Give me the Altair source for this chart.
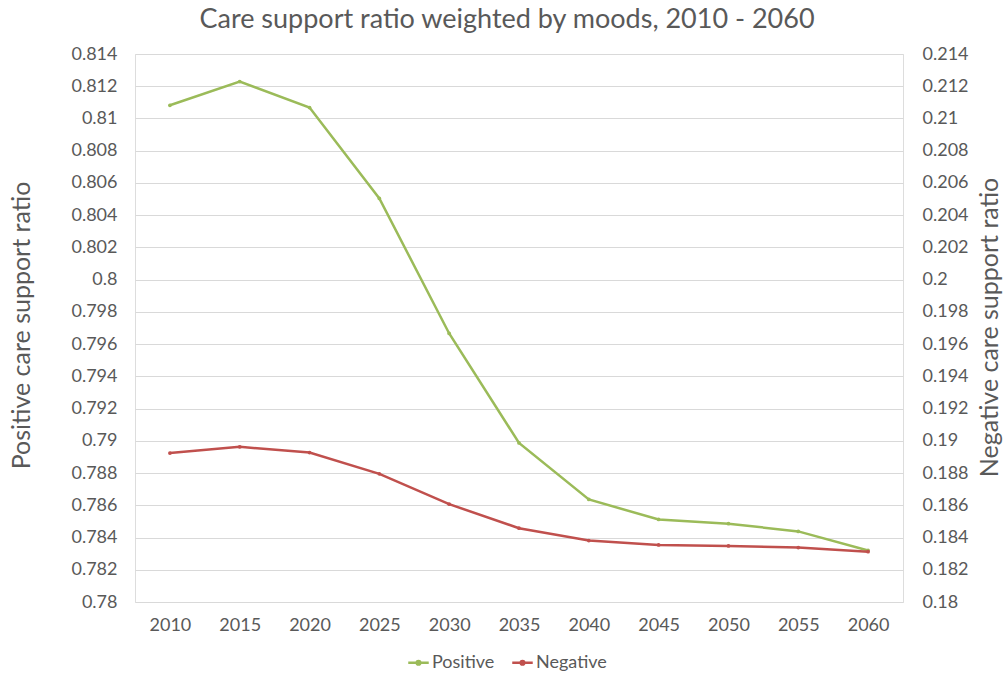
import altair as alt
import pandas as pd

years = ["2010", "2015", "2020", "2025", "2030", "2035", "2040", "2045", "2050", "2055", "2060"]
positive = [0.81082, 0.81229, 0.81068, 0.80504, 0.79666, 0.78987, 0.78636, 0.78512, 0.78486, 0.78438, 0.78320]
negative = [0.18924, 0.18963, 0.18927, 0.18795, 0.18607, 0.18458, 0.18381, 0.18354, 0.18348, 0.18338, 0.18312]
left_ticks = [0.78, 0.782, 0.784, 0.786, 0.788, 0.79, 0.792, 0.794, 0.796, 0.798, 0.8,
              0.802, 0.804, 0.806, 0.808, 0.81, 0.812, 0.814]
right_ticks = [0.18, 0.182, 0.184, 0.186, 0.188, 0.19, 0.192, 0.194, 0.196, 0.198, 0.2,
               0.202, 0.204, 0.206, 0.208, 0.21, 0.212, 0.214]
series_names = ["Positive", "Negative"]
series_colors = ["#9bbb59", "#c0504d"]

df = pd.DataFrame({
    "year": years * 2,
    "series": ["Positive"] * len(years) + ["Negative"] * len(years),
    "value": positive + negative,
})

FONT = "Lato"
TXT = "#595959"

x_enc = alt.X("year:O", title=None,
              axis=alt.Axis(labelAngle=0, domain=False, ticks=False, labelPadding=14,
                            labelFontSize=18, labelColor=TXT, labelFont=FONT))
color_enc = alt.Color("series:N",
                      scale=alt.Scale(domain=series_names, range=series_colors),
                      legend=alt.Legend(title=None, orient="none", direction="horizontal",
                                        legendX=272, legendY=597,
                                        symbolType="M-1,0L1,0M-0.18,0A0.18,0.18,0,1,1,0.18,0A0.18,0.18,0,1,1,-0.18,0",
                                        symbolSize=420, symbolStrokeWidth=2.5,
                                        labelFontSize=18, labelColor=TXT, labelFont=FONT,
                                        columnPadding=12, symbolOffset=0, labelOffset=2))

pos = alt.Chart(df).transform_filter(alt.datum.series == "Positive").mark_line(
    strokeWidth=2.5, point=alt.OverlayMarkDef(size=14, filled=True)
).encode(
    x=x_enc,
    y=alt.Y("value:Q",
            scale=alt.Scale(domain=[0.78, 0.814], nice=False, zero=False),
            axis=alt.Axis(values=left_ticks, format=".3~f", domain=False, ticks=False,
                          labelPadding=18, labelFontSize=18, labelColor=TXT, labelFont=FONT,
                          grid=True, gridColor="#d9d9d9", gridWidth=1,
                          title="Positive care support ratio", titleFontSize=25,
                          titleFont=FONT, titleColor=TXT, titleFontWeight="normal",
                          titleAngle=270, titleX=-114, titleY=271, titleBaseline="middle",
                          titleAlign="center")),
    color=color_enc,
)

neg = alt.Chart(df).transform_filter(alt.datum.series == "Negative").mark_line(
    strokeWidth=2.5, point=alt.OverlayMarkDef(size=14, filled=True)
).encode(
    x=x_enc,
    y=alt.Y("value:Q",
            scale=alt.Scale(domain=[0.18, 0.214], nice=False, zero=False),
            axis=alt.Axis(orient="right", values=right_ticks, format=".3~f", domain=False,
                          ticks=False, labelPadding=19, labelFontSize=18, labelColor=TXT,
                          labelFont=FONT, grid=False,
                          title="Negative care support ratio", titleFontSize=25,
                          titleFont=FONT, titleColor=TXT, titleFontWeight="normal",
                          titleAngle=270, titleX=86, titleY=273, titleBaseline="middle",
                          titleAlign="center")),
    color=color_enc,
)

chart = alt.layer(pos, neg).resolve_scale(y="independent").properties(
    width=768, height=548,
    autosize=alt.AutoSizeParams(type="none"),
    padding={"left": 135, "top": 54, "right": 101, "bottom": 74},
    title=alt.TitleParams("Care support ratio weighted by moods, 2010 - 2060",
                          fontSize=27, font=FONT, color=TXT, fontWeight="normal",
                          anchor="middle", offset=11, dx=-12),
).configure_view(stroke=None).configure(background="white")

chart.save("out.html", embed_options={"renderer": "svg", "actions": False})
